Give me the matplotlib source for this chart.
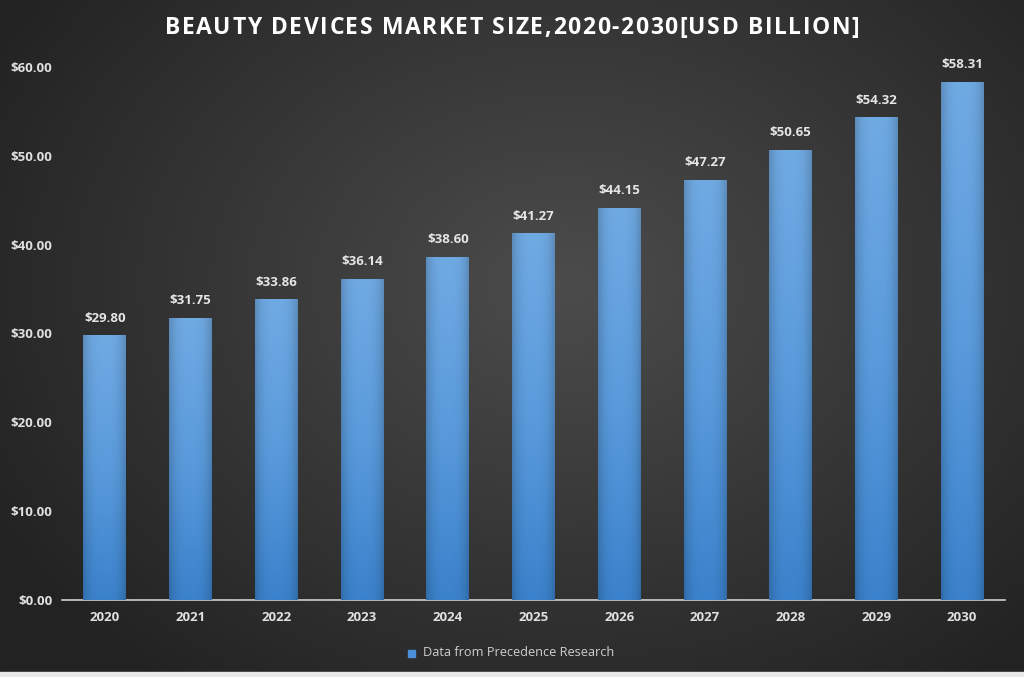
import numpy as np
import matplotlib
matplotlib.use("Agg")
import matplotlib.pyplot as plt
from matplotlib.colors import LinearSegmentedColormap

years = ["2020", "2021", "2022", "2023", "2024", "2025", "2026", "2027", "2028", "2029", "2030"]
values = [29.80, 31.75, 33.86, 36.14, 38.60, 41.27, 44.15, 47.27, 50.65, 54.32, 58.31]
yticks = [0, 10, 20, 30, 40, 50, 60]
title = "BEAUTY DEVICES MARKET SIZE,2020-2030[USD BILLION]"
legend_label = "Data from Precedence Research"

plt.rcParams['font.family'] = ['Open Sans', 'DejaVu Sans']

W, H = 1024, 677
fig = plt.figure(figsize=(W / 100, H / 100), dpi=100)

# radial gradient background
bg = fig.add_axes([0, 0, 1, 1])
yy, xx = np.mgrid[0:H, 0:W]
r = np.sqrt(((xx - W * 0.55) / (W * 0.65)) ** 2 + ((yy - H * 0.42) / (H * 0.75)) ** 2)
r = np.clip(r, 0, 1)
c0 = np.array([0x4c, 0x4c, 0x4c]) / 255
c1 = np.array([0x22, 0x22, 0x22]) / 255
img = c0[None, None, :] * (1 - r[..., None]) + c1[None, None, :] * r[..., None]
bg.imshow(img, extent=[0, 1, 0, 1], aspect='auto', origin='upper')
bg.set_xlim(0, 1)
bg.set_ylim(0, 1)
bg.axis('off')
bg.add_patch(plt.Rectangle((0, 0), 1, 5 / H, color='#e8e8e8', transform=bg.transAxes))

ax = fig.add_axes([62 / W, 1 - 600 / H, (1005 - 62) / W, (600 - 67) / H])
ax.patch.set_alpha(0)
x = np.arange(len(years))
bars = ax.bar(x, values, width=0.5, color='#5b9bd5', zorder=2)

cmap = LinearSegmentedColormap.from_list('b', ['#3b82cc', '#5a9bdc', '#70aae3'])
grad_v = np.linspace(0, 1, 256)[:, None]
grad_h = np.linspace(-1, 1, 64)[None, :]
shade = 1 - 0.18 * np.abs(grad_h) ** 3
for b in bars:
    x0, y0 = b.get_x(), b.get_y()
    w, h = b.get_width(), b.get_height()
    rgb = cmap(grad_v)[..., :3] * np.ones((1, 64, 1))
    rgb = rgb * shade[..., None]
    im = ax.imshow(rgb, extent=[x0, x0 + w, y0, y0 + h], origin='lower', aspect='auto', zorder=3)
    im.set_clip_path(b)

for xi, v in zip(x, values):
    ax.text(xi, v + 1.2, f"${v:.2f}", ha='center', va='bottom', color='#e6e6e6',
            fontsize=9.5, fontweight='bold')

ax.set_xlim(-0.5, len(years) - 0.5)
ax.set_ylim(0, 60)
ax.set_yticks(yticks)
ax.set_yticklabels([f"${t:.2f}" for t in yticks])
ax.set_xticks(x)
ax.set_xticklabels(years)
for lab in ax.get_xticklabels() + ax.get_yticklabels():
    lab.set_color('#e0e0e0')
    lab.set_fontsize(9.5)
    lab.set_fontweight('bold')
ax.tick_params(axis='both', length=0)
ax.tick_params(axis='y', pad=7)
ax.tick_params(axis='x', pad=8)
for s in ['top', 'right', 'left']:
    ax.spines[s].set_visible(False)
ax.spines['bottom'].set_color('#cfcfcf')
ax.spines['bottom'].set_linewidth(1.2)

# letter-spaced title
renderer = fig.canvas.get_renderer()
tprops = dict(color='white', fontsize=16.5, fontweight='bold', va='center', ha='left')
tmp = fig.text(0, 0, "", **tprops)

def prefix_width(s):
    if not s:
        return 0.0
    tmp.set_text(s + "|")
    w1 = tmp.get_window_extent(renderer).width
    tmp.set_text("|")
    w2 = tmp.get_window_extent(renderer).width
    return w1 - w2

spacing = 1.6
total = prefix_width(title) + spacing * (len(title) - 1)
start = W / 2 - total / 2
ty = 1 - 28 / H
for i, ch in enumerate(title):
    if ch == " ":
        continue
    px = start + prefix_width(title[:i]) + spacing * i
    fig.text(px / W, ty, ch, **tprops)
tmp.remove()

# legend
fig.patches.append(plt.Rectangle((408 / W, 1 - 657 / H), 7 / W, 7 / H, color='#4a8fd8',
                                 transform=fig.transFigure, figure=fig))
fig.text(423 / W, 1 - 653 / H, legend_label, ha='left', va='center', color='#cfcfcf', fontsize=9.2)

fig.savefig("out.png", dpi=100)
